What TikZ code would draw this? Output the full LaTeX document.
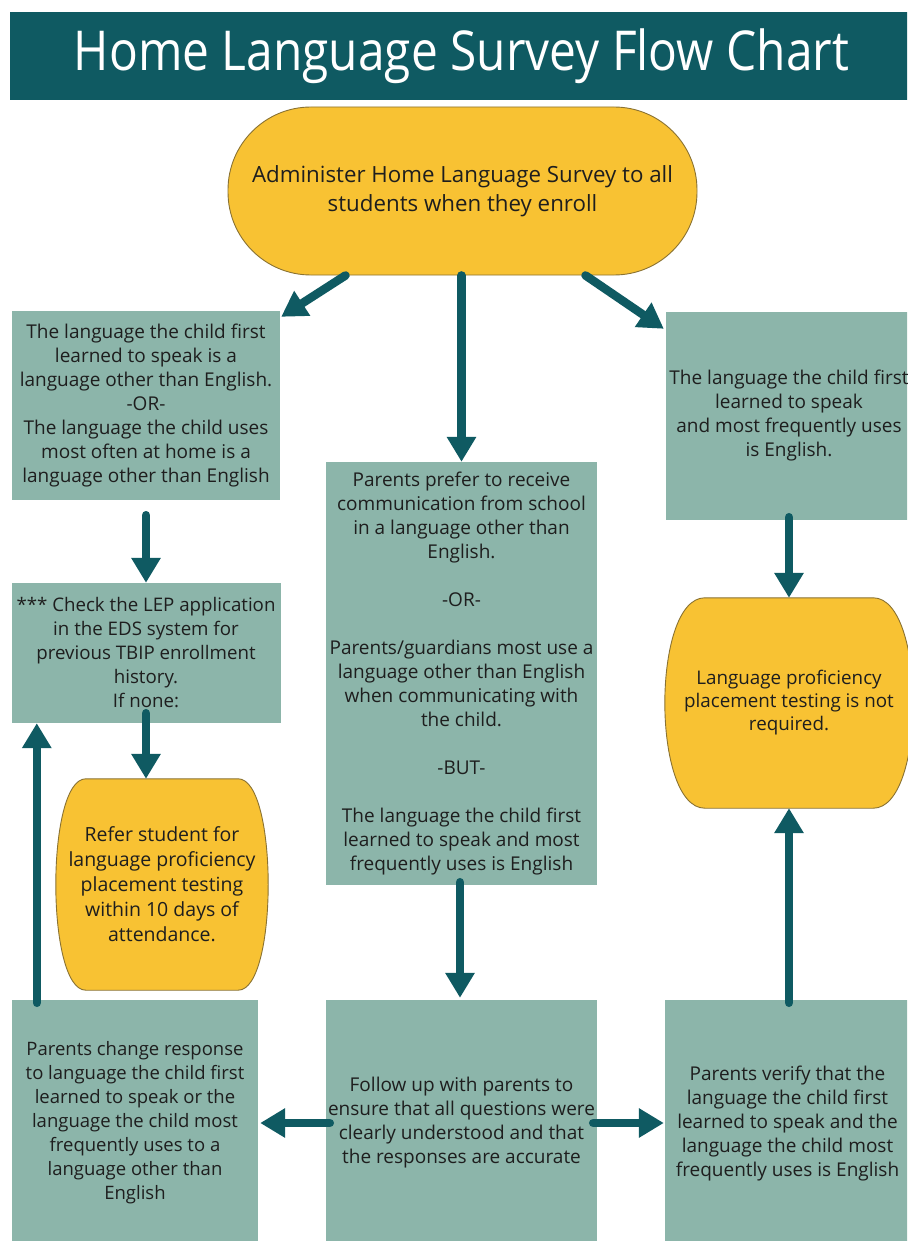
\documentclass[tikz,border=0pt]{standalone}
\usepackage{fontspec}
\setmainfont{Open Sans}
\newfontfamily\titlefont[FakeStretch=0.87]{Open Sans}
\usetikzlibrary{arrows.meta,calc,backgrounds}

\definecolor{darkteal}{HTML}{0F5A62}
\definecolor{sage}{HTML}{8CB5AA}
\definecolor{gold}{HTML}{F8C233}
\definecolor{goldline}{HTML}{8A7232}
\definecolor{ink}{HTML}{1E1E1E}

% barrel-shaped outline behind a node: #1 node, #2 corner inset, #3 side bulge
\newcommand\barrelbehind[3]{%
  \begin{scope}[on background layer]
    \filldraw[fill=gold, draw=goldline, line width=0.9pt]
      let \p1=(#1.north west), \p2=(#1.south east) in
      (\x1+#2,\y1) -- (\x2-#2,\y1)
      .. controls (\x2+#3,\y1) and (\x2+#3,\y2) .. (\x2-#2,\y2)
      -- (\x1+#2,\y2)
      .. controls (\x1-#3,\y2) and (\x1-#3,\y1) .. cycle;
  \end{scope}}

\begin{document}
\begin{tikzpicture}[x=1pt,y=-1pt,
  txt/.style={text=ink, align=center, inner sep=0pt,
    font=\fontsize{19}{24}\selectfont},
  sagebox/.style={txt, fill=sage, draw=none},
  goldbox/.style={txt, fill=none, draw=none},
  arr/.style={draw=darkteal, line width=8.5pt, line cap=round,
    -{Triangle[width=28pt,length=25pt]}}]

\useasboundingbox (0,0) rectangle (907,1241);
\begin{scope}[on background layer]
  \fill[white] (0,0) rectangle (907,1241);
\end{scope}
\clip (0,0) rectangle (907,1241);

% title bar
\node[fill=darkteal, text=white, inner sep=0pt,
  minimum width=903pt, minimum height=88pt,
  font=\titlefont\fontsize{55}{60}\selectfont] (title) at (461.5,56)
  {Home Language Survey Flow Chart};

% start terminator
\node[txt, fill=gold, draw=goldline, line width=0.9pt, rounded corners=83pt,
  minimum width=469pt, minimum height=168pt,
  font=\fontsize{22.3}{29}\selectfont] (start) at (462.5,191)
  {Administer Home Language Survey to all\\students when they enroll};

% first row
\node[sagebox, minimum width=268pt, minimum height=189pt] (l1) at (146,405.5)
  {The language the child first\\learned to speak is a\\language other than English.\\-OR-\\The language the child uses\\most often at home is a\\language other than English};

\node[sagebox, minimum width=271pt, minimum height=423pt] (cbox) at (461.5,673.5)
  {Parents prefer to receive\\communication from school\\in a language other than\\English.\\[24pt]-OR-\\[24pt]Parents/guardians most use a\\language other than English\\when communicating with\\the child.\\[24pt]-BUT-\\[24pt]The language the child first\\learned to speak and most\\frequently uses is English};

\node[sagebox, minimum width=246pt, minimum height=208pt] (r1) at (789,416)
  {The language the child first\\learned to speak\\and most frequently uses\\is English.};

% left column
\node[sagebox, minimum width=269pt, minimum height=140pt,
  font=\fontsize{18.7}{24}\selectfont] (l2) at (146,653)
  {*** Check the LEP application\\in the EDS system for\\previous TBIP enrollment\\history.\\If none:};

\node[goldbox, minimum width=212pt, minimum height=211pt,
  font=\fontsize{19.5}{25}\selectfont] (yl) at (162,884.5)
  {Refer student for\\language proficiency\\placement testing\\within 10 days of\\attendance.};
\barrelbehind{yl}{30pt}{10pt}

% right column
\node[goldbox, minimum width=248pt, minimum height=210pt,
  font=\fontsize{18.8}{23}\selectfont] (ry) at (789,703)
  {Language proficiency\\placement testing is not\\required.};
\barrelbehind{ry}{40pt}{13.3pt}

% bottom row
\node[sagebox, minimum width=246pt, minimum height=246pt,
  font=\fontsize{18.5}{24}\selectfont] (bl) at (135,1123)
  {Parents change response\\to language the child first\\learned to speak or the\\language the child most\\frequently uses to a\\language other than\\English};

\node[sagebox, minimum width=271pt, minimum height=246pt] (bc) at (461.5,1123)
  {Follow up with parents to\\ensure that all questions were\\clearly understood and that\\the responses are accurate};

\node[sagebox, minimum width=245pt, minimum height=246pt] (br) at (787.5,1123)
  {Parents verify that the\\language the child first\\learned to speak and the\\language the child most\\frequently uses is English};

% connectors
\draw[arr] ($(start.south)+(-117,0)$) -- ($(l1.north east)+(1,6)$);
\draw[arr] (start.south -| cbox.north) -- (cbox.north);
\draw[arr] ($(start.south)+(123,0)$) -- ($(r1.north west)+(-2,17)$);
\draw[arr] ($(l1.south)+(0,15)$) -- (l2.north);
\draw[arr] ($(l2.south)+(0,-10)$) -- (yl.north -| l2.south);
\draw[arr] ($(r1.south)+(0,-3)$) -- (ry.north);
\draw[arr] ($(cbox.south)+(-1.5,-3)$) -- ($(bc.north)+(-1.5,-2)$);
\draw[arr] ($(bc.west)+(4,0)$) -- ($(bl.east)+(2,0)$);
\draw[arr] ($(bc.east)+(-4,0)$) -- ($(br.west)+(-1,0)$);
\draw[arr] ($(br.north -| ry.south)+(0,3)$) -- (ry.south);
\draw[arr] ($(bl.north west)+(25,3)$) -- ($(l2.south west)+(25.5,0)$);

\end{tikzpicture}
\end{document}
